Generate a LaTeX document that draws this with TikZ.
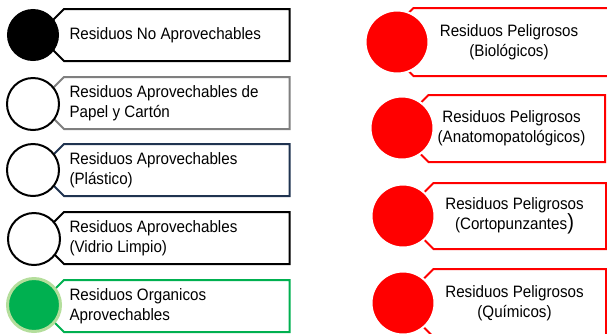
\documentclass[tikz,border=0pt]{standalone}
\usepackage{fontspec}
\setmainfont{Liberation Sans}[FakeStretch=0.92]
\usetikzlibrary{shapes.misc}
\definecolor{verde}{HTML}{00B050}
\definecolor{verdeclaro}{HTML}{B4DE9C}
\definecolor{gris}{HTML}{7F7F7F}
\definecolor{azul}{HTML}{1F3350}
\definecolor{rojo}{HTML}{FF0000}

\begin{document}
\begin{tikzpicture}[x=1pt,y=-1pt,font=\fontsize{16.5}{20}\selectfont,
  caja/.style={chamfered rectangle,chamfered rectangle corners={north west,south west},
    chamfered rectangle xsep=7pt,line width=2pt,fill=white,
    minimum width=223pt,minimum height=52pt,text width=204pt,inner xsep=9pt,align=flush left},
  peligro/.style={chamfered rectangle,chamfered rectangle corners={north west,south west},
    chamfered rectangle xsep=7pt,line width=2pt,draw=rojo,fill=white,align=center},
  bola/.style={circle,line width=2pt,draw=black,fill=white,minimum size=50pt,inner sep=0pt},
  bolaroja/.style={circle,line width=2pt,draw=white,fill=rojo,minimum size=63pt,inner sep=0pt}]
\clip (0,0) rectangle (607,333);
% no aprovechables / aprovechables
\node[caja,draw=black] (c1) at (171.5,35) {Residuos No Aprovechables};
\node[caja,draw=gris] (c2) at (171.5,103) {Residuos Aprovechables de\\Papel y Cartón};
\node[caja,draw=azul] (c3) at (171.5,170) {Residuos Aprovechables\\(Plástico)};
\node[caja,draw=black] (c4) at (171.5,238) {Residuos Aprovechables\\(Vidrio Limpio)};
\node[caja,draw=verde] (c5) at (171.5,306) {Residuos Organicos\\Aprovechables};
\node[bola,fill=black] (b1) at (33,35) {};
\node[bola,minimum size=52pt] (b2) at (33,104) {};
\node[bola,minimum size=52pt] (b3) at (33,170) {};
\node[bola,minimum size=52pt] (b4) at (34,239) {};
\node[bola,draw=verdeclaro,fill=verde,line width=3pt,minimum size=53pt] (b5) at (34,305) {};
% peligrosos
\node[peligro,minimum width=212pt,minimum height=68pt] (p1) at (509,42) {Residuos Peligrosos\\(Biológicos)};
\node[peligro,minimum width=187pt,minimum height=67pt] (p2) at (511.5,128.5) {Residuos Peligrosos\\(Anatomopatológicos)};
\node[peligro,minimum width=183pt,minimum height=66pt] (p3) at (514.5,216) {Residuos Peligrosos\\(Cortopunzantes{\fontsize{22}{22}\selectfont)}};
\node[peligro,minimum width=183pt,minimum height=68pt] (p4) at (514.5,303) {Residuos Peligrosos\\(Químicos)};
\node[bolaroja] (r1) at (397,42) {};
\node[bolaroja] (r2) at (402,128) {};
\node[bolaroja] (r3) at (403,216) {};
\node[bolaroja] (r4) at (403,303) {};
\end{tikzpicture}
\end{document}
